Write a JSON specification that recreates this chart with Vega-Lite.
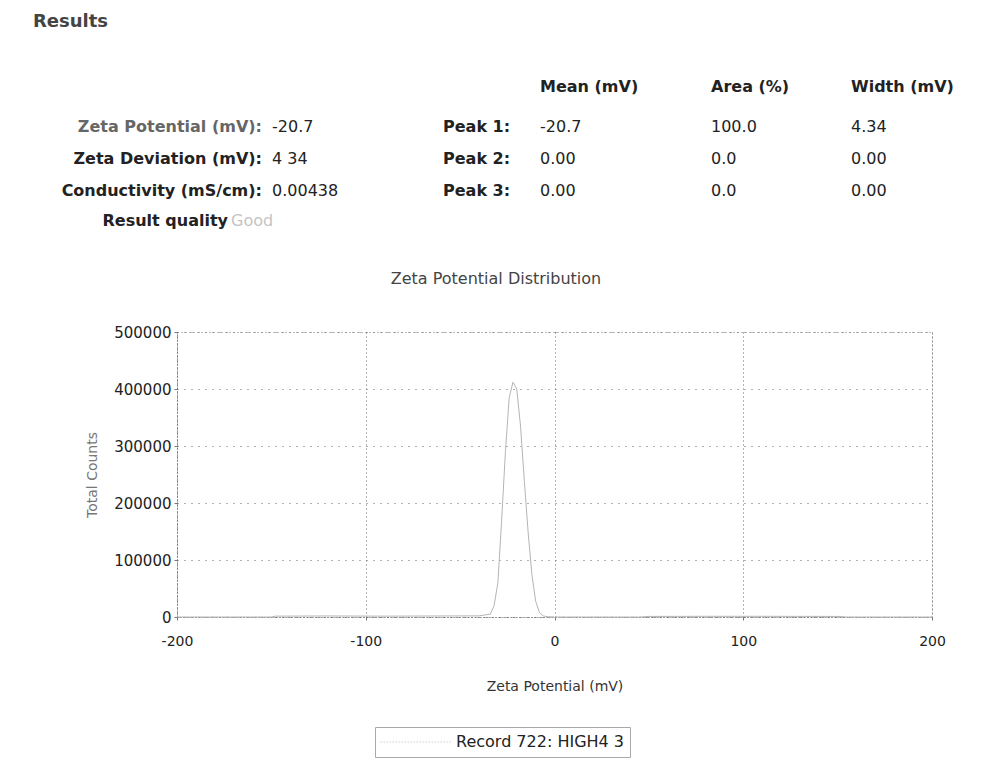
{
  "$schema": "https://vega.github.io/schema/vega-lite/v6.json",
  "autosize": {"type": "none"},
  "width": 755,
  "height": 285,
  "padding": {"left": 177, "top": 332, "right": 61, "bottom": 149},
  "background": "white",
  "config": {
    "font": "DejaVu Sans",
    "view": {"stroke": "#777", "strokeDash": [1, 3]}
  },
  "datasets": {
    "table": [
      {"r": 0, "c": 0, "kind": "heading", "t": "Results"},
      {"r": 1, "c": 4, "kind": "header", "t": "Mean (mV)"},
      {"r": 1, "c": 5, "kind": "header", "t": "Area (%)"},
      {"r": 1, "c": 6, "kind": "header", "t": "Width (mV)"},
      {"r": 2, "c": 1, "kind": "label_faint", "t": "Zeta Potential (mV):"},
      {"r": 3, "c": 1, "kind": "label", "t": "Zeta Deviation (mV):"},
      {"r": 4, "c": 1, "kind": "label", "t": "Conductivity (mS/cm):"},
      {"r": 5, "c": 7, "kind": "label", "t": "Result quality"},
      {"r": 2, "c": 2, "kind": "value", "t": "-20.7"},
      {"r": 3, "c": 2, "kind": "value", "t": "4 34"},
      {"r": 4, "c": 2, "kind": "value", "t": "0.00438"},
      {"r": 5, "c": 8, "kind": "quality", "t": "Good"},
      {"r": 2, "c": 3, "kind": "header", "t": "Peak 1:"},
      {"r": 3, "c": 3, "kind": "header", "t": "Peak 2:"},
      {"r": 4, "c": 3, "kind": "header", "t": "Peak 3:"},
      {"r": 2, "c": 4, "kind": "value", "t": "-20.7"},
      {"r": 3, "c": 4, "kind": "value", "t": "0.00"},
      {"r": 4, "c": 4, "kind": "value", "t": "0.00"},
      {"r": 2, "c": 5, "kind": "value", "t": "100.0"},
      {"r": 3, "c": 5, "kind": "value", "t": "0.0"},
      {"r": 4, "c": 5, "kind": "value", "t": "0.0"},
      {"r": 2, "c": 6, "kind": "value", "t": "4.34"},
      {"r": 3, "c": 6, "kind": "value", "t": "0.00"},
      {"r": 4, "c": 6, "kind": "value", "t": "0.00"},
      {"r": 6, "c": 9, "kind": "charttitle", "t": "Zeta Potential Distribution"}
    ],
    "curve": [
      {"zeta": -200, "counts": 0, "series": "Record 722: HIGH4 3"},
      {"zeta": -150, "counts": 0, "series": "Record 722: HIGH4 3"},
      {"zeta": -148, "counts": 1500, "series": "Record 722: HIGH4 3"},
      {"zeta": -120, "counts": 1800, "series": "Record 722: HIGH4 3"},
      {"zeta": -90, "counts": 1500, "series": "Record 722: HIGH4 3"},
      {"zeta": -60, "counts": 1800, "series": "Record 722: HIGH4 3"},
      {"zeta": -40, "counts": 2000, "series": "Record 722: HIGH4 3"},
      {"zeta": -34, "counts": 5000, "series": "Record 722: HIGH4 3"},
      {"zeta": -32, "counts": 20000, "series": "Record 722: HIGH4 3"},
      {"zeta": -30, "counts": 60000, "series": "Record 722: HIGH4 3"},
      {"zeta": -28, "counts": 170000, "series": "Record 722: HIGH4 3"},
      {"zeta": -26, "counts": 290000, "series": "Record 722: HIGH4 3"},
      {"zeta": -24, "counts": 385000, "series": "Record 722: HIGH4 3"},
      {"zeta": -22, "counts": 412000, "series": "Record 722: HIGH4 3"},
      {"zeta": -20, "counts": 400000, "series": "Record 722: HIGH4 3"},
      {"zeta": -18, "counts": 335000, "series": "Record 722: HIGH4 3"},
      {"zeta": -16, "counts": 240000, "series": "Record 722: HIGH4 3"},
      {"zeta": -14, "counts": 150000, "series": "Record 722: HIGH4 3"},
      {"zeta": -12, "counts": 75000, "series": "Record 722: HIGH4 3"},
      {"zeta": -10, "counts": 28000, "series": "Record 722: HIGH4 3"},
      {"zeta": -8, "counts": 8000, "series": "Record 722: HIGH4 3"},
      {"zeta": -6, "counts": 2000, "series": "Record 722: HIGH4 3"},
      {"zeta": -4, "counts": 500, "series": "Record 722: HIGH4 3"},
      {"zeta": 0, "counts": 0, "series": "Record 722: HIGH4 3"},
      {"zeta": 45, "counts": 0, "series": "Record 722: HIGH4 3"},
      {"zeta": 50, "counts": 1000, "series": "Record 722: HIGH4 3"},
      {"zeta": 80, "counts": 1200, "series": "Record 722: HIGH4 3"},
      {"zeta": 110, "counts": 1200, "series": "Record 722: HIGH4 3"},
      {"zeta": 150, "counts": 1000, "series": "Record 722: HIGH4 3"},
      {"zeta": 155, "counts": 0, "series": "Record 722: HIGH4 3"},
      {"zeta": 200, "counts": 0, "series": "Record 722: HIGH4 3"}
    ]
  },
  "resolve": {"scale": {"x": "independent", "y": "independent"}},
  "layer": [
    {
      "data": {"name": "curve"},
      "mark": {"type": "line", "strokeWidth": 1, "interpolate": "linear"},
      "encoding": {
        "x": {
          "field": "zeta", "type": "quantitative",
          "scale": {"domain": [-200, 200], "nice": false, "zero": false},
          "axis": {
            "title": "Zeta Potential (mV)",
            "values": [-200, -100, 0, 100, 200],
            "labelExpr": "'' + datum.value",
            "labelFontSize": 14, "labelColor": "#222", "labelPadding": 14,
            "tickSize": 3, "tickColor": "#777",
            "titleFontSize": 14, "titleFontWeight": "normal", "titleColor": "#333", "titlePadding": 31,
            "domainColor": "#666", "domainDash": [1, 2],
            "grid": true, "gridColor": "#666", "gridDash": [1, 3],
            "labelFlush": false
          }
        },
        "y": {
          "field": "counts", "type": "quantitative",
          "scale": {"domain": [0, 500000], "nice": false},
          "axis": {
            "title": "Total Counts",
            "values": [0, 100000, 200000, 300000, 400000, 500000],
            "format": "d",
            "labelFontSize": 15, "labelColor": "#222", "labelPadding": 3,
            "tickSize": 3, "tickColor": "#777",
            "titleFontSize": 14, "titleFontWeight": "normal", "titleColor": "#777", "titlePadding": 14,
            "domainColor": "#666", "domainDash": [1, 2],
            "grid": true, "gridColor": "#666", "gridDash": [1, 6]
          }
        },
        "color": {
          "field": "series", "type": "nominal",
          "scale": {"range": ["#b5b5b5"]},
          "legend": {
            "title": null,
            "orient": "none",
            "legendX": 198,
            "legendY": 395,
            "symbolType": "stroke",
            "symbolSize": 5000,
            "clipHeight": 20,
            "symbolDash": [1, 2],
            "symbolStrokeWidth": 1,
            "symbolStrokeColor": "#888",
            "labelFontSize": 16,
            "labelColor": "#222",
            "labelLimit": 400,
            "strokeColor": "#aaa",
            "padding": 5
          }
        }
      }
    },
    {
      "data": {"name": "table"},
      "transform": [{"filter": "datum.kind === 'heading'"}],
      "mark": {"type": "text", "align": "left", "baseline": "middle", "fontSize": 18, "fontWeight": "bold", "color": "#444"},
      "encoding": {
        "x": {"field": "c", "type": "quantitative", "axis": null, "scale": {"domain": [0, 1, 2, 3, 4, 5, 6, 7, 8, 9], "range": [-144, 85, 95, 266, 363, 534, 674, 51, 54, 319], "nice": false, "zero": false}},
        "y": {"field": "r", "type": "quantitative", "axis": null, "scale": {"domain": [0, 1, 2, 3, 4, 5, 6], "range": [-310, -245, -205, -173, -141, -111, -53], "nice": false, "zero": false}},
        "text": {"field": "t"}
      }
    },
    {
      "data": {"name": "table"},
      "transform": [{"filter": "datum.kind === 'label'"}],
      "mark": {"type": "text", "align": "right", "baseline": "middle", "fontSize": 16, "fontWeight": "bold", "color": "#222"},
      "encoding": {
        "x": {"field": "c", "type": "quantitative", "axis": null, "scale": {"domain": [0, 1, 2, 3, 4, 5, 6, 7, 8, 9], "range": [-144, 85, 95, 266, 363, 534, 674, 51, 54, 319], "nice": false, "zero": false}},
        "y": {"field": "r", "type": "quantitative", "axis": null, "scale": {"domain": [0, 1, 2, 3, 4, 5, 6], "range": [-310, -245, -205, -173, -141, -111, -53], "nice": false, "zero": false}},
        "text": {"field": "t"}
      }
    },
    {
      "data": {"name": "table"},
      "transform": [{"filter": "datum.kind === 'label_faint'"}],
      "mark": {"type": "text", "align": "right", "baseline": "middle", "fontSize": 16, "fontWeight": "bold", "color": "#666"},
      "encoding": {
        "x": {"field": "c", "type": "quantitative", "axis": null, "scale": {"domain": [0, 1, 2, 3, 4, 5, 6, 7, 8, 9], "range": [-144, 85, 95, 266, 363, 534, 674, 51, 54, 319], "nice": false, "zero": false}},
        "y": {"field": "r", "type": "quantitative", "axis": null, "scale": {"domain": [0, 1, 2, 3, 4, 5, 6], "range": [-310, -245, -205, -173, -141, -111, -53], "nice": false, "zero": false}},
        "text": {"field": "t"}
      }
    },
    {
      "data": {"name": "table"},
      "transform": [{"filter": "datum.kind === 'header'"}],
      "mark": {"type": "text", "align": "left", "baseline": "middle", "fontSize": 16, "fontWeight": "bold", "color": "#222"},
      "encoding": {
        "x": {"field": "c", "type": "quantitative", "axis": null, "scale": {"domain": [0, 1, 2, 3, 4, 5, 6, 7, 8, 9], "range": [-144, 85, 95, 266, 363, 534, 674, 51, 54, 319], "nice": false, "zero": false}},
        "y": {"field": "r", "type": "quantitative", "axis": null, "scale": {"domain": [0, 1, 2, 3, 4, 5, 6], "range": [-310, -245, -205, -173, -141, -111, -53], "nice": false, "zero": false}},
        "text": {"field": "t"}
      }
    },
    {
      "data": {"name": "table"},
      "transform": [{"filter": "datum.kind === 'value'"}],
      "mark": {"type": "text", "align": "left", "baseline": "middle", "fontSize": 16, "fontWeight": "normal", "color": "#222"},
      "encoding": {
        "x": {"field": "c", "type": "quantitative", "axis": null, "scale": {"domain": [0, 1, 2, 3, 4, 5, 6, 7, 8, 9], "range": [-144, 85, 95, 266, 363, 534, 674, 51, 54, 319], "nice": false, "zero": false}},
        "y": {"field": "r", "type": "quantitative", "axis": null, "scale": {"domain": [0, 1, 2, 3, 4, 5, 6], "range": [-310, -245, -205, -173, -141, -111, -53], "nice": false, "zero": false}},
        "text": {"field": "t"}
      }
    },
    {
      "data": {"name": "table"},
      "transform": [{"filter": "datum.kind === 'quality'"}],
      "mark": {"type": "text", "align": "left", "baseline": "middle", "fontSize": 16, "fontWeight": "normal", "color": "#c4c4c4"},
      "encoding": {
        "x": {"field": "c", "type": "quantitative", "axis": null, "scale": {"domain": [0, 1, 2, 3, 4, 5, 6, 7, 8, 9], "range": [-144, 85, 95, 266, 363, 534, 674, 51, 54, 319], "nice": false, "zero": false}},
        "y": {"field": "r", "type": "quantitative", "axis": null, "scale": {"domain": [0, 1, 2, 3, 4, 5, 6], "range": [-310, -245, -205, -173, -141, -111, -53], "nice": false, "zero": false}},
        "text": {"field": "t"}
      }
    },
    {
      "data": {"name": "table"},
      "transform": [{"filter": "datum.kind === 'charttitle'"}],
      "mark": {"type": "text", "align": "center", "baseline": "middle", "fontSize": 16, "fontWeight": "normal", "color": "#444"},
      "encoding": {
        "x": {"field": "c", "type": "quantitative", "axis": null, "scale": {"domain": [0, 1, 2, 3, 4, 5, 6, 7, 8, 9], "range": [-144, 85, 95, 266, 363, 534, 674, 51, 54, 319], "nice": false, "zero": false}},
        "y": {"field": "r", "type": "quantitative", "axis": null, "scale": {"domain": [0, 1, 2, 3, 4, 5, 6], "range": [-310, -245, -205, -173, -141, -111, -53], "nice": false, "zero": false}},
        "text": {"field": "t"}
      }
    }
  ]
}
